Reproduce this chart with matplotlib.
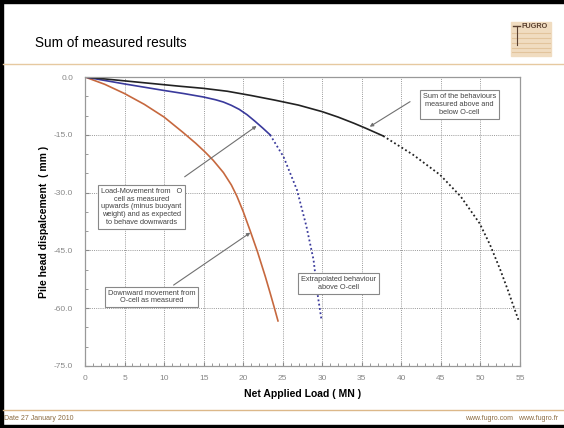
import matplotlib.pyplot as plt
from matplotlib.patches import Rectangle

plt.rcParams['font.family'] = ['Liberation Sans', 'DejaVu Sans']

# downward movement measured below the O-cell
down_x = [0, 2.5, 5, 7.5, 10, 12.4, 14, 15.2, 16.2, 17.5, 18.5, 19.2, 20, 20.9, 21.8, 22.8, 23.4, 23.9, 24.4]
down_y = [0, -1.9, -4.3, -7.1, -10.4, -14.4, -17.2, -19.5, -21.6, -24.8, -28.0, -30.9, -34.9, -40.0, -45.3, -51.8, -56.0, -59.6, -63.3]

# upward load-movement, measured part and extrapolation
up_x = [0, 2.5, 5, 7.5, 10, 12.5, 15, 16.5, 17.5, 18.5, 19.5, 20.5, 21.5, 22.5, 23.4]
up_y = [0, -0.9, -1.8, -2.65, -3.5, -4.3, -5.2, -5.9, -6.5, -7.35, -8.4, -9.8, -11.5, -13.3, -15.0]
up_ext_x = [23.4, 25.1, 26.8, 28.0, 28.9, 29.45, 29.9]
up_ext_y = [-15.0, -20.7, -29.3, -38.8, -47.5, -57.0, -63.0]

# sum of both behaviours
sum_x = [0, 4, 8, 12, 15, 18, 21, 24, 27, 30, 32, 34, 35.5, 37.7]
sum_y = [0, -0.8, -1.6, -2.4, -2.95, -3.7, -4.8, -6.0, -7.3, -9.0, -10.4, -12.0, -13.3, -15.3]
sum_ext_x = [37.7, 41.5, 44.9, 47.5, 49.9, 51.2, 52.5, 53.5, 54.2, 54.8]
sum_ext_y = [-15.3, -20.2, -25.4, -31.0, -38.0, -43.5, -50.0, -55.5, -59.6, -63.0]

x_ticks = [0, 5, 10, 15, 20, 25, 30, 35, 40, 45, 50, 55]
y_ticks = [0, -15, -30, -45, -60, -75]

W, H = 564, 428
fig = plt.figure(figsize=(W / 100, H / 100), dpi=100)
fig.patch.set_facecolor('white')

# slide decoration
deco = fig.add_axes([0, 0, 1, 1])
deco.set_xlim(0, W)
deco.set_ylim(H, 0)
deco.axis('off')
deco.add_patch(Rectangle((0, 0), W, 3, color='black'))
deco.add_patch(Rectangle((0, 0), 3, H, color='black'))
deco.add_patch(Rectangle((0, 425), W, 3, color='black'))
deco.plot([3, W], [64, 64], color='#e6c9a0', lw=1.0)
deco.plot([3, W], [410, 410], color='#dcb88a', lw=1.0)
deco.text(35, 43, 'Sum of measured results', fontsize=9.8, color='black', va='center', ha='left')
deco.add_patch(Rectangle((511, 22), 40, 34, color='#f0dcc0'))
for yy in [33, 38, 43, 48, 52]:
    deco.plot([512, 550], [yy, yy], color='#e2c49c', lw=0.8)
deco.plot([513, 520], [26, 26], color='#5a4030', lw=1.0)
deco.plot([517, 517], [26, 45], color='#5a4030', lw=0.8)
deco.text(535, 26.5, 'FUGRO', fontsize=5.2, fontweight='bold', color='#5a4030', ha='center', va='center')
deco.text(4, 418, 'Date 27 January 2010', fontsize=5.0, color='#8a6a40', va='center')
deco.text(558, 418, 'www.fugro.com   www.fugro.fr', fontsize=5.0, color='#8a6a40', va='center', ha='right')

ax = fig.add_axes([85 / W, 1 - 366 / H, 435 / W, 289 / H])
ax.plot(down_x, down_y, color='#c6683e', lw=1.2)
ax.plot(up_x, up_y, color='#3a3a9c', lw=1.2)
ax.plot(up_ext_x, up_ext_y, color='#3a3a9c', lw=1.3, linestyle=(0, (1, 1.4)))
ax.plot(sum_x, sum_y, color='#222222', lw=1.2)
ax.plot(sum_ext_x, sum_ext_y, color='#222222', lw=1.3, linestyle=(0, (1, 1.4)))

ax.set_xlim(0, 55)
ax.set_ylim(-75, 0)
ax.set_xticks(x_ticks)
ax.set_yticks(y_ticks)
ax.set_xticklabels([str(v) for v in x_ticks])
ax.set_yticklabels(['%.1f' % v for v in y_ticks])
ax.set_xticks(range(0, 56), minor=True)
ax.set_yticks(range(-75, 1, 5), minor=True)
ax.tick_params(axis='both', which='both', direction='in', colors='#888888', labelsize=6)
ax.tick_params(axis='both', which='major', length=3)
ax.tick_params(axis='both', which='minor', length=2.5)
ax.tick_params(axis='x', pad=6.5)
ax.tick_params(axis='y', pad=8.5)
for s in ax.spines.values():
    s.set_color('#999999')
    s.set_linewidth(0.9)
ax.grid(True, which='major', color='#9a9a9a', lw=0.7, linestyle=(0, (1, 1.2)))
ax.set_axisbelow(True)

ax.set_xlabel('Net Applied Load ( MN )', fontsize=7.5, fontweight='bold', labelpad=5)
ax.set_ylabel('Pile head dispalcement  ( mm )', fontsize=7.5, fontweight='bold', labelpad=3.5)

box = dict(boxstyle='square,pad=0.4', fc='white', ec='#888888', lw=0.8)
arrow = dict(arrowstyle='-|>', color='#707070', lw=0.8, mutation_scale=5, shrinkA=0, shrinkB=0)

ax.annotate('', xy=(21.7, -12.7), xytext=(12.6, -25.9), arrowprops=arrow)
ax.annotate('', xy=(20.9, -40.4), xytext=(11.2, -54.0), arrowprops=arrow)
ax.annotate('', xy=(36.0, -12.9), xytext=(41.1, -6.4), arrowprops=arrow)

ax.text(7.1, -33.7, 'Load-Movement from   O\ncell as measured\nupwards (minus buoyant\nweight) and as expected\nto behave downwards',
        fontsize=5.3, color='#444444', ha='center', va='center', linespacing=1.15, bbox=box)
ax.text(8.4, -57.1, 'Downward movement from\nO-cell as measured',
        fontsize=5.3, color='#444444', ha='center', va='center', linespacing=1.15, bbox=box)
ax.text(47.35, -7.1, 'Sum of the behaviours\nmeasured above and\nbelow O-cell',
        fontsize=5.3, color='#444444', ha='center', va='center', linespacing=1.15, bbox=box)
ax.text(32.0, -53.6, 'Extrapolated behaviour\nabove O-cell',
        fontsize=5.3, color='#444444', ha='center', va='center', linespacing=1.15, bbox=box)

fig.savefig('out.png', dpi=100)
